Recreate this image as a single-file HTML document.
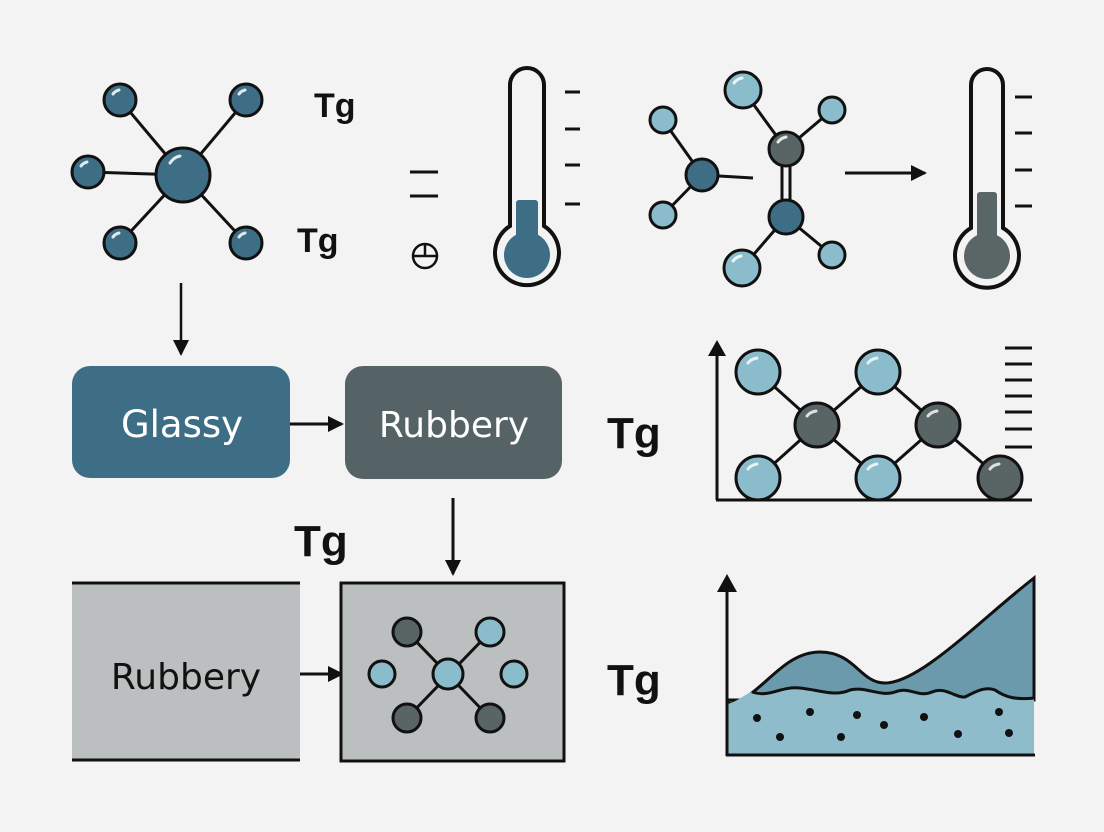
<!DOCTYPE html>
<html><head><meta charset="utf-8"><style>
html,body{margin:0;padding:0;background:#f3f3f3;}
svg{display:block;}
.tg{font-family:'Liberation Sans','Arimo',Arial,Helvetica,sans-serif;font-weight:bold;fill:#111;}
</style></head><body>
<svg width="1104" height="832" viewBox="0 0 1104 832" xmlns="http://www.w3.org/2000/svg">
<defs>
<marker id="ah" markerWidth="18" markerHeight="18" refX="14" refY="8" orient="auto" markerUnits="userSpaceOnUse"><path d="M0,0 L16,8 L0,16 z" fill="#111"/></marker>
</defs>
<rect x="0" y="0" width="1104" height="832" fill="#f3f3f3"/>
<g stroke="#111" stroke-width="3" fill="none">
<line x1="183" y1="175" x2="120" y2="100"/><line x1="183" y1="175" x2="246" y2="100"/>
<line x1="183" y1="175" x2="88" y2="172"/><line x1="183" y1="175" x2="120" y2="243"/>
<line x1="183" y1="175" x2="246" y2="243"/>
</g>
<g stroke="#111" stroke-width="3" fill="#3d6e85">
<circle cx="183" cy="175" r="27"/>
<circle cx="120" cy="100" r="16"/><circle cx="246" cy="100" r="16"/>
<circle cx="88" cy="172" r="16"/><circle cx="120" cy="243" r="16"/><circle cx="246" cy="243" r="16"/>
</g>
<g fill="none" stroke="#fff" stroke-width="3" stroke-linecap="round" opacity="0.85">
<path d="M170,163 q4,-6 10,-7"/><path d="M113,94 q2,-3 6,-4"/><path d="M239,94 q2,-3 6,-4"/>
<path d="M81,166 q2,-3 6,-4"/><path d="M113,237 q2,-3 6,-4"/><path d="M239,237 q2,-3 6,-4"/>
</g>
<text class="tg" x="314" y="117" font-size="34">Tg</text>
<text class="tg" x="297" y="252" font-size="34">Tg</text>
<text class="tg" x="607" y="448" font-size="44">Tg</text>
<text class="tg" x="294" y="556" font-size="44">Tg</text>
<text class="tg" x="607" y="695" font-size="44">Tg</text>
<g stroke="#111" stroke-width="3"><line x1="410" y1="172" x2="438" y2="172"/><line x1="410" y1="196" x2="438" y2="196"/></g>
<g stroke="#111" stroke-width="2.5" fill="none"><circle cx="425" cy="256" r="12"/><line x1="413" y1="256" x2="437" y2="256"/><line x1="425" y1="244" x2="425" y2="256"/></g>
<path d="M510,226 V85 a17,17 0 0 1 34,0 V226 a32,32 0 1 1 -34,0 z" fill="#f3f3f3" stroke="#111" stroke-width="4"/>
<rect x="516" y="200" width="22" height="52" rx="3" fill="#3d6e85"/>
<circle cx="527" cy="255" r="23" fill="#3d6e85"/>
<g stroke="#111" stroke-width="3"><line x1="565" y1="92" x2="580" y2="92"/><line x1="565" y1="129" x2="580" y2="129"/><line x1="565" y1="165" x2="580" y2="165"/><line x1="565" y1="204" x2="580" y2="204"/></g>
<g stroke="#111" stroke-width="3" fill="none">
<line x1="663" y1="120" x2="702" y2="175"/><line x1="663" y1="215" x2="702" y2="175"/>
<line x1="702" y1="175" x2="753" y2="178"/>
<line x1="743" y1="90" x2="786" y2="149"/><line x1="832" y1="110" x2="786" y2="149"/>
<line x1="782" y1="160" x2="782" y2="205"/><line x1="790" y1="160" x2="790" y2="205"/>
<line x1="786" y1="217" x2="742" y2="268"/><line x1="786" y1="217" x2="832" y2="255"/>
</g>
<g stroke="#111" stroke-width="3">
<circle cx="663" cy="120" r="13" fill="#8bbccb"/><circle cx="663" cy="215" r="13" fill="#8bbccb"/>
<circle cx="702" cy="175" r="16" fill="#3d6e85"/>
<circle cx="743" cy="90" r="18" fill="#8bbccb"/><circle cx="832" cy="110" r="13" fill="#8bbccb"/>
<circle cx="786" cy="149" r="17" fill="#596465"/><circle cx="786" cy="217" r="17" fill="#3d6e85"/>
<circle cx="742" cy="268" r="18" fill="#8bbccb"/><circle cx="832" cy="255" r="13" fill="#8bbccb"/>
</g>
<g fill="none" stroke="#fff" stroke-width="3" stroke-linecap="round" opacity="0.85">
<path d="M734,83 q3,-4 8,-5"/><path d="M778,142 q3,-4 8,-5"/><path d="M733,261 q3,-4 8,-5"/>
</g>
<line x1="845" y1="173" x2="925" y2="173" stroke="#111" stroke-width="3" marker-end="url(#ah)"/>
<path d="M971,228 V85 a16,16 0 0 1 32,0 V228 a32,32 0 1 1 -32,0 z" fill="#f3f3f3" stroke="#111" stroke-width="4"/>
<rect x="977" y="192" width="20" height="60" rx="3" fill="#5a6566"/>
<circle cx="987" cy="256" r="23" fill="#5a6566"/>
<g stroke="#111" stroke-width="3"><line x1="1015" y1="97" x2="1032" y2="97"/><line x1="1015" y1="133" x2="1032" y2="133"/><line x1="1015" y1="170" x2="1032" y2="170"/><line x1="1015" y1="206" x2="1032" y2="206"/></g>
<line x1="181" y1="283" x2="181" y2="354" stroke="#111" stroke-width="2.5" marker-end="url(#ah)"/>
<rect x="72" y="366" width="218" height="112" rx="18" fill="#3d6e85"/>
<text x="182" y="437" font-family="DejaVu Sans, sans-serif" font-size="37" fill="#fff" text-anchor="middle">Glassy</text>
<line x1="290" y1="424" x2="342" y2="424" stroke="#111" stroke-width="3" marker-end="url(#ah)"/>
<rect x="345" y="366" width="217" height="113" rx="18" fill="#566366"/>
<text x="454" y="437" font-family="DejaVu Sans, sans-serif" font-size="36" fill="#fff" text-anchor="middle">Rubbery</text>
<line x1="453" y1="498" x2="453" y2="574" stroke="#111" stroke-width="3" marker-end="url(#ah)"/>
<rect x="72" y="582" width="228" height="178" fill="#bcbfbf"/>
<line x1="72" y1="583" x2="300" y2="583" stroke="#111" stroke-width="3"/>
<line x1="72" y1="760" x2="300" y2="760" stroke="#111" stroke-width="3"/>
<text x="186" y="689" font-family="DejaVu Sans, sans-serif" font-size="36" fill="#111" text-anchor="middle">Rubbery</text>
<line x1="300" y1="674" x2="342" y2="674" stroke="#111" stroke-width="3" marker-end="url(#ah)"/>
<rect x="341" y="583" width="223" height="178" fill="#bcbfbf" stroke="#111" stroke-width="3"/>
<g stroke="#111" stroke-width="3">
<line x1="407" y1="632" x2="490" y2="718"/><line x1="490" y1="632" x2="407" y2="718"/>
<circle cx="448" cy="674" r="15" fill="#8bbccb"/>
<circle cx="407" cy="632" r="14" fill="#596465"/><circle cx="490" cy="632" r="14" fill="#8bbccb"/>
<circle cx="382" cy="674" r="13" fill="#8bbccb"/><circle cx="514" cy="674" r="13" fill="#8bbccb"/>
<circle cx="407" cy="718" r="14" fill="#596465"/><circle cx="490" cy="718" r="14" fill="#596465"/>
</g>
<g stroke="#111" stroke-width="3" fill="none">
<line x1="717" y1="500" x2="717" y2="350"/><line x1="716" y1="500" x2="1032" y2="500"/>
<polyline points="758,372 817,425 758,478"/>
<polyline points="817,425 878,372 938,425 1000,478"/>
<polyline points="817,425 878,478 938,425"/>
</g>
<path d="M708,356 L717,340 L726,356 z" fill="#111"/>
<g stroke="#111" stroke-width="3">
<circle cx="758" cy="372" r="22" fill="#8bbccb"/><circle cx="878" cy="372" r="22" fill="#8bbccb"/>
<circle cx="817" cy="425" r="22" fill="#596465"/><circle cx="938" cy="425" r="22" fill="#596465"/>
<circle cx="758" cy="478" r="22" fill="#8bbccb"/><circle cx="878" cy="478" r="22" fill="#8bbccb"/>
<circle cx="1000" cy="478" r="22" fill="#596465"/>
</g>
<g fill="none" stroke="#fff" stroke-width="3" stroke-linecap="round" opacity="0.8">
<path d="M748,363 q3,-4 9,-5"/><path d="M868,363 q3,-4 9,-5"/><path d="M807,416 q3,-4 9,-5"/><path d="M928,416 q3,-4 9,-5"/><path d="M748,469 q3,-4 9,-5"/><path d="M868,469 q3,-4 9,-5"/><path d="M990,469 q3,-4 9,-5"/>
</g>
<g stroke="#111" stroke-width="3"><line x1="1005" y1="348" x2="1032" y2="348"/><line x1="1005" y1="364" x2="1032" y2="364"/><line x1="1005" y1="380" x2="1032" y2="380"/><line x1="1005" y1="396" x2="1032" y2="396"/><line x1="1005" y1="412" x2="1032" y2="412"/><line x1="1005" y1="429" x2="1032" y2="429"/><line x1="1005" y1="447" x2="1032" y2="447"/></g>
<path d="M728,704 C760,700 780,652 820,652 C855,652 860,683 885,683 C920,683 980,620 1034,578 L1034,700 L728,700 z" fill="#6a9aab" stroke="#111" stroke-width="3"/>
<path d="M728,704 C740,700 745,694 752,692 C770,698 780,686 800,688 C820,690 835,697 850,690 C865,686 880,697 895,692 C910,686 918,698 932,692 C945,686 955,698 965,697 C975,692 985,686 995,690 C1005,697 1015,700 1034,698 L1034,755 L728,755 z" fill="#8fbccb"/>
<path d="M752,692 C770,698 780,686 800,688 C820,690 835,697 850,690 C865,686 880,697 895,692 C910,686 918,698 932,692 C945,686 955,698 965,697 C975,692 985,686 995,690 C1005,697 1015,700 1034,698" fill="none" stroke="#111" stroke-width="3"/>
<g stroke="#111" stroke-width="3" fill="none"><line x1="727" y1="756" x2="727" y2="590"/><line x1="726" y1="755" x2="1035" y2="755"/></g>
<path d="M717,592 L727,574 L737,592 z" fill="#111"/>
<g fill="#111">
<circle cx="757" cy="718" r="4"/><circle cx="810" cy="712" r="4"/><circle cx="857" cy="715" r="4"/><circle cx="884" cy="725" r="4"/><circle cx="924" cy="717" r="4"/><circle cx="999" cy="712" r="4"/>
<circle cx="780" cy="737" r="4"/><circle cx="841" cy="737" r="4"/><circle cx="958" cy="734" r="4"/><circle cx="1009" cy="733" r="4"/>
</g>
</svg>
</body></html>
